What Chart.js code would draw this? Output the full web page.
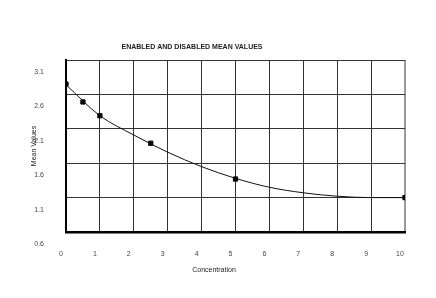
<!DOCTYPE html>
<html lang="en">
<head>
    <meta charset="UTF-8">
    <title>Enabled and Disabled Mean Values</title>
    <script src="https://cdn.jsdelivr.net/npm/chart.js@4.4.0/dist/chart.umd.min.js"></script>
    <style>
        body { margin: 0; background: #fff; }
        #wrap { width: 436px; height: 298px; }
    </style>
</head>
<body>
    <div id="wrap"><canvas id="chart"></canvas></div>
    <script>
        // measured points
        var concX = [0, 0.5, 1, 2.5, 5, 10];
        var meanY = [2.75, 2.49, 2.29, 1.89, 1.37, 1.10];
        // fitted curve
        var fitX = [0, 1, 2, 3, 4, 5, 6, 7, 8, 9, 10];
        var fitY = [2.74, 2.29, 2.01, 1.76, 1.55, 1.38, 1.25, 1.17, 1.12, 1.10, 1.10];

        var font = 'Liberation Sans, Arial, sans-serif';

        // titles drawn at their spots in the original
        var textPlugin = {
            id: 'texts',
            afterDraw: function(chart) {
                var c = chart.ctx;
                c.save();
                c.fillStyle = '#222';
                c.textAlign = 'center';
                c.textBaseline = 'middle';
                c.font = 'bold 7px ' + font;
                c.fillText('ENABLED AND DISABLED MEAN VALUES', 192, 47);
                c.font = '7px ' + font;
                c.fillText('Concentration', 214, 270);
                c.translate(34, 146);
                c.rotate(-Math.PI / 2);
                c.fillText('Mean Values', 0, 0);
                c.restore();
            }
        };

        new Chart(document.getElementById('chart'), {
            type: 'scatter',
            data: {
                datasets: [{
                    data: fitX.map(function(x, i) { return {x: x, y: fitY[i]}; }),
                    showLine: true,
                    borderColor: '#111',
                    borderWidth: 1,
                    pointRadius: 0,
                    cubicInterpolationMode: 'monotone'
                }, {
                    data: concX.map(function(x, i) { return {x: x, y: meanY[i]}; }),
                    pointStyle: 'rect',
                    pointRadius: 3,
                    backgroundColor: '#000',
                    borderColor: '#000'
                }]
            },
            options: {
                responsive: true,
                maintainAspectRatio: false,
                animation: false,
                layout: { padding: { top: 60, right: 31, left: 0, bottom: 0 } },
                plugins: { legend: { display: false }, tooltip: { enabled: false } },
                scales: {
                    x: {
                        type: 'linear',
                        min: 0, max: 10,
                        afterFit: function(s) { s.height = 66; },
                        ticks: { stepSize: 1, padding: 18, labelOffset: -5, color: '#444', font: { family: font, size: 7 } },
                        grid: {
                            drawTicks: false,
                            color: function(ctx) { return ctx.index === 10 ? '#999' : '#333'; },
                            lineWidth: function(ctx) { return ctx.index === 10 ? 2 : 1; }
                        },
                        border: { color: '#000', width: 2.5 }
                    },
                    y: {
                        min: 0.6, max: 3.1,
                        afterFit: function(s) { s.width = 66; },
                        ticks: {
                            stepSize: 0.5, padding: 22, labelOffset: 12, color: '#444',
                            font: { family: font, size: 7 },
                            callback: function(v) { return v.toFixed(1); }
                        },
                        grid: { drawTicks: false, color: '#333', lineWidth: 1 },
                        border: { color: '#000', width: 2 }
                    }
                }
            },
            plugins: [textPlugin]
        });
    </script>
</body>
</html>
